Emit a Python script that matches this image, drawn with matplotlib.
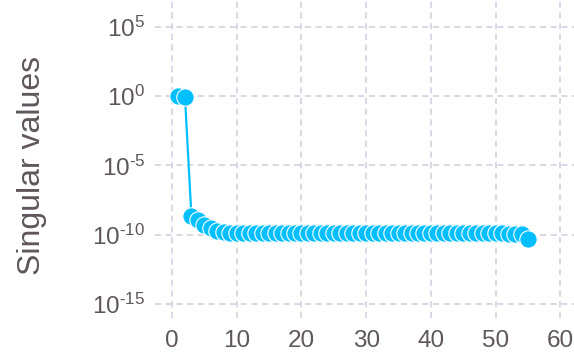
import numpy as np
import matplotlib
matplotlib.use('Agg')
import matplotlib.pyplot as plt
from matplotlib.ticker import FixedLocator, FuncFormatter

plt.rcParams['font.family'] = 'Liberation Sans'
plt.rcParams['mathtext.fontset'] = 'custom'
plt.rcParams['mathtext.rm'] = 'Liberation Sans'
plt.rcParams['mathtext.it'] = 'Liberation Sans'
plt.rcParams['mathtext.default'] = 'regular'

# singular values, index 1..55 (log10 of each value)
idx = np.arange(1, 56)
log_sv = [0.03, -0.06, -8.67, -8.96, -9.27, -9.49, -9.70, -9.81, -9.85, -9.86,
          -9.87, -9.87, -9.87, -9.87, -9.87, -9.88, -9.88, -9.88, -9.88, -9.88,
          -9.88, -9.88, -9.88, -9.88, -9.88, -9.88, -9.88, -9.88, -9.88, -9.88,
          -9.88, -9.88, -9.88, -9.88, -9.88, -9.88, -9.88, -9.88, -9.88, -9.88,
          -9.88, -9.88, -9.88, -9.88, -9.88, -9.89, -9.89, -9.89, -9.89, -9.90,
          -9.90, -9.91, -9.92, -9.95, -10.28]
sv = 10.0 ** np.array(log_sv)

xticks = [0, 10, 20, 30, 40, 50, 60]
yexps = [-15, -10, -5, 0, 5]

blue = '#00bfff'
gridc = '#cfcde0'
textc = '#5e565c'


def pow10(v, pos):
    e = int(round(np.log10(v)))
    s = str(abs(e))
    if e < 0:
        s = '\u2010' + s
    return r'$10^{%s}$' % s


fig = plt.figure(figsize=(5.74, 3.54), dpi=100)
ax = fig.add_axes([155/574, (354-318)/354, (574-155)/574, 318/354])

ax.plot(idx, sv, color=blue, lw=1.6, marker='o', ms=12.5,
        mfc=blue, mec='white', mew=0.8)

ax.set_yscale('log')
ax.set_xlim(-2.63, 62.1)
ax.set_ylim(10**-16, 10**6.93)
ax.xaxis.set_major_locator(FixedLocator(xticks))
ax.yaxis.set_major_locator(FixedLocator([10.0**e for e in yexps]))
ax.yaxis.set_minor_locator(FixedLocator([]))
ax.yaxis.set_major_formatter(FuncFormatter(pow10))

for s in ax.spines.values():
    s.set_visible(False)
ax.grid(True, color=gridc, ls=(0, (4, 3)), lw=1.1)
ax.tick_params(axis='both', length=0, labelsize=17.5, colors=textc)
ax.tick_params(axis='x', pad=8.5)
ax.tick_params(axis='y', pad=7)

ax.set_ylabel('Singular values', fontsize=23, color=textc)
ax.yaxis.set_label_coords(-0.258, 0.478)

fig.savefig('out.png', dpi=100)
